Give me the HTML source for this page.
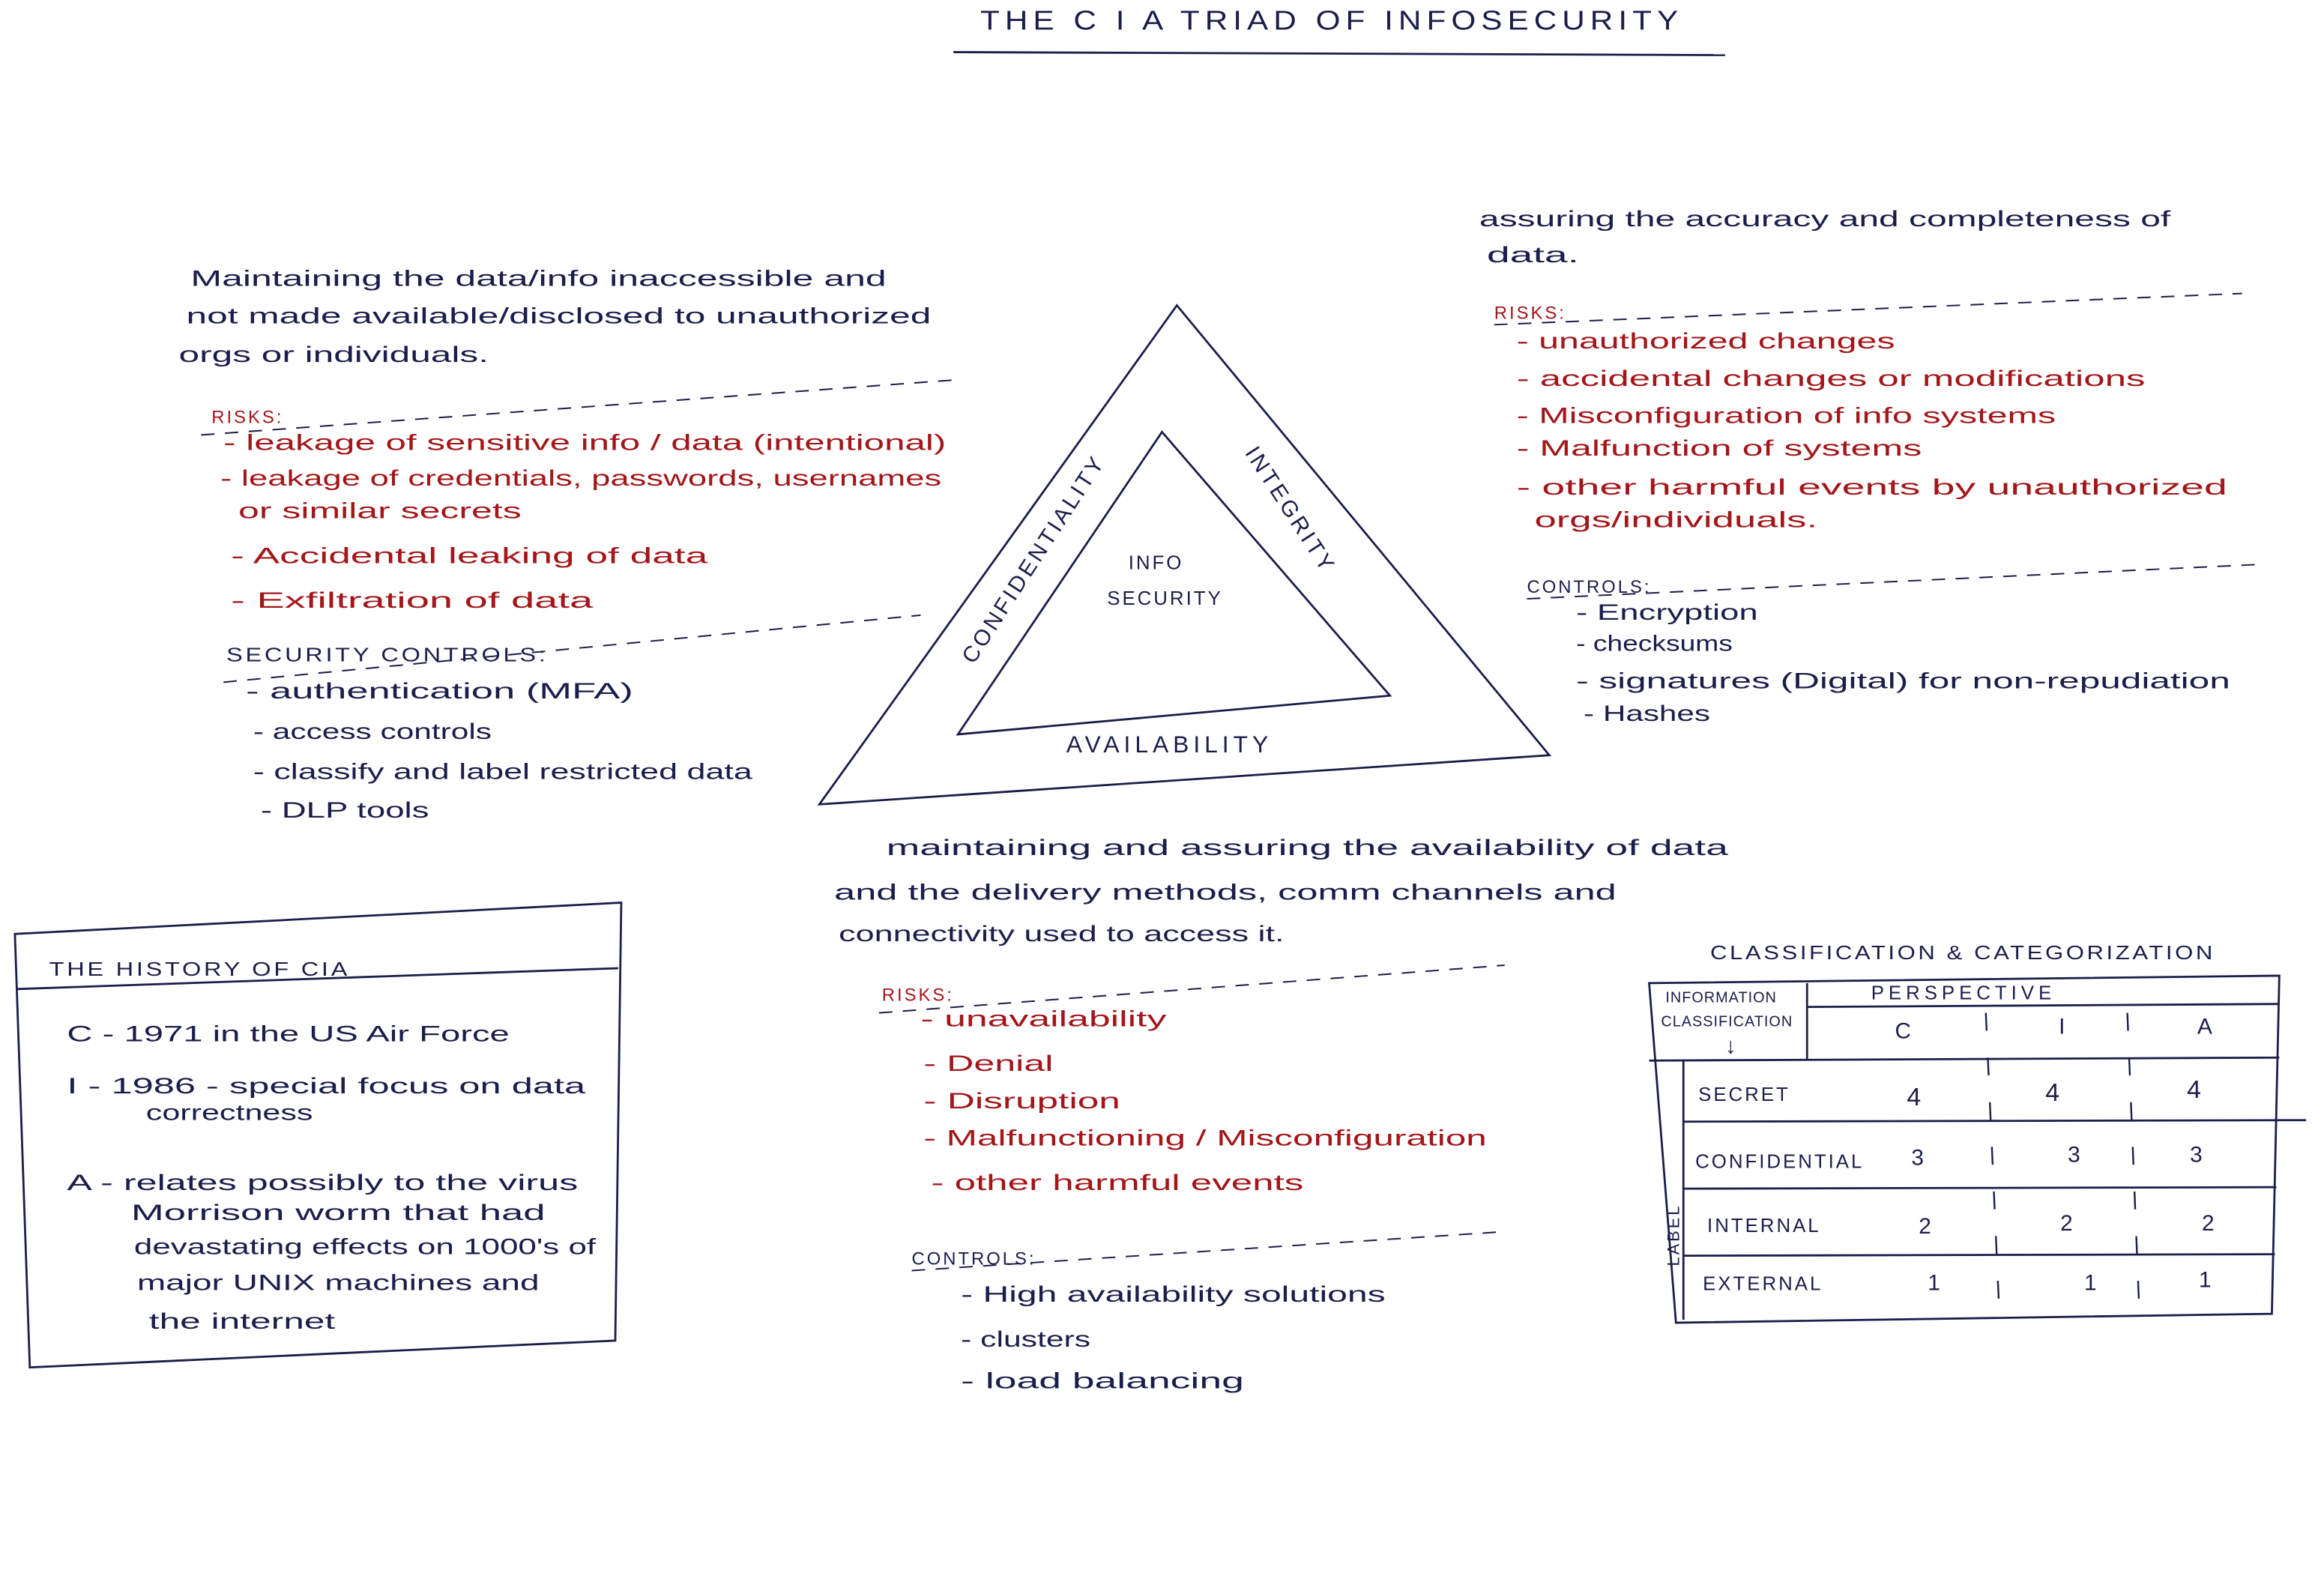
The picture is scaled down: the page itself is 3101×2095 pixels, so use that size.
<!DOCTYPE html>
<html><head><meta charset="utf-8">
<style>
html,body{margin:0;padding:0;background:#fff;}
svg{display:block;}
text{font-family:"Liberation Sans",sans-serif;font-size:15px;}
.k{fill:#1b1d4a;}
.r{fill:#a3161a;}
.c{letter-spacing:1.5px;font-size:14px;}
</style></head><body>
<svg width="3101" height="2095" viewBox="0 0 1560 1054" preserveAspectRatio="none" xmlns="http://www.w3.org/2000/svg">
<g stroke="#1b1d4a" fill="none" stroke-width="1.4">
<line x1="640" y1="35" x2="1158" y2="37"/>
<polygon points="790,205 550,540 1040,507"/>
<polygon points="780,290 643,493 933,467"/>
</g>
<text x="658" y="20" class="k c" style="font-size:18px;letter-spacing:3px" textLength="472" lengthAdjust="spacingAndGlyphs">THE  C I A   TRIAD  OF  INFOSECURITY</text>
<text class="k c" transform="translate(698,378) rotate(-57)" text-anchor="middle" style="font-size:15px;letter-spacing:2px">CONFIDENTIALITY</text>
<text class="k c" transform="translate(862,345) rotate(57)" text-anchor="middle" style="font-size:15px;letter-spacing:2px">INTEGRITY</text>
<text x="785" y="505" class="k c" text-anchor="middle" style="font-size:16px;letter-spacing:3px">AVAILABILITY</text>
<text x="776" y="382" class="k c" text-anchor="middle" style="font-size:13px">INFO</text>
<text x="782" y="406" class="k c" text-anchor="middle" style="font-size:13px">SECURITY</text>

<g stroke-dasharray="9,7" stroke="#1b1d4a" stroke-width="1" fill="none">
<line x1="135" y1="292" x2="642" y2="255"/>
<line x1="150" y1="458" x2="618" y2="413"/>
<line x1="1003" y1="218" x2="1505" y2="197"/>
<line x1="1025" y1="402" x2="1515" y2="379"/>
<line x1="590" y1="680" x2="1010" y2="648"/>
<line x1="612" y1="853" x2="1008" y2="827"/>
</g>

<g lengthAdjust="spacingAndGlyphs">
<!-- left block -->
<text x="128" y="192" class="k" textLength="467" lengthAdjust="spacingAndGlyphs">Maintaining the data/info inaccessible and</text>
<text x="125" y="217" class="k" textLength="500" lengthAdjust="spacingAndGlyphs">not made available/disclosed to unauthorized</text>
<text x="120" y="243" class="k" textLength="208" lengthAdjust="spacingAndGlyphs">orgs or individuals.</text>
<text x="142" y="284" class="r c" style="font-size:12px">RISKS:</text>
<text x="150" y="302" class="r" textLength="485" lengthAdjust="spacingAndGlyphs">- leakage of sensitive info / data (intentional)</text>
<text x="148" y="326" class="r" textLength="484" lengthAdjust="spacingAndGlyphs">- leakage of credentials, passwords, usernames</text>
<text x="160" y="348" class="r" textLength="190" lengthAdjust="spacingAndGlyphs">or similar secrets</text>
<text x="155" y="378" class="r" textLength="320" lengthAdjust="spacingAndGlyphs">- Accidental leaking of data</text>
<text x="155" y="408" class="r" textLength="243" lengthAdjust="spacingAndGlyphs">- Exfiltration of data</text>
<text x="152" y="444" class="k c" style="font-size:13px" textLength="216" lengthAdjust="spacingAndGlyphs">SECURITY  CONTROLS:</text>
<text x="165" y="469" class="k" textLength="260" lengthAdjust="spacingAndGlyphs">- authentication (MFA)</text>
<text x="170" y="496" class="k" textLength="160" lengthAdjust="spacingAndGlyphs">- access controls</text>
<text x="170" y="523" class="k" textLength="335" lengthAdjust="spacingAndGlyphs">- classify and label restricted data</text>
<text x="175" y="549" class="k" textLength="113" lengthAdjust="spacingAndGlyphs">- DLP tools</text>

<!-- right block -->
<text x="993" y="152" class="k" textLength="464" lengthAdjust="spacingAndGlyphs">assuring the accuracy and completeness of</text>
<text x="998" y="176" class="k" textLength="62" lengthAdjust="spacingAndGlyphs">data.</text>
<text x="1003" y="214" class="r c" style="font-size:12px">RISKS:</text>
<text x="1018" y="234" class="r" textLength="254" lengthAdjust="spacingAndGlyphs">- unauthorized changes</text>
<text x="1018" y="259" class="r" textLength="422" lengthAdjust="spacingAndGlyphs">- accidental changes or modifications</text>
<text x="1018" y="284" class="r" textLength="362" lengthAdjust="spacingAndGlyphs">- Misconfiguration of info systems</text>
<text x="1018" y="306" class="r" textLength="272" lengthAdjust="spacingAndGlyphs">- Malfunction of systems</text>
<text x="1018" y="332" class="r" textLength="477" lengthAdjust="spacingAndGlyphs">- other harmful events  by unauthorized</text>
<text x="1030" y="354" class="r" textLength="190" lengthAdjust="spacingAndGlyphs">orgs/individuals.</text>
<text x="1025" y="398" class="k c" style="font-size:12px">CONTROLS:</text>
<text x="1058" y="416" class="k" textLength="122" lengthAdjust="spacingAndGlyphs">- Encryption</text>
<text x="1058" y="437" class="k" textLength="105" lengthAdjust="spacingAndGlyphs">- checksums</text>
<text x="1058" y="462" class="k" textLength="439" lengthAdjust="spacingAndGlyphs">- signatures (Digital) for non-repudiation</text>
<text x="1063" y="484" class="k" textLength="85" lengthAdjust="spacingAndGlyphs">- Hashes</text>

<!-- bottom middle -->
<text x="595" y="574" class="k" textLength="565" lengthAdjust="spacingAndGlyphs">maintaining and assuring the availability of data</text>
<text x="560" y="604" class="k" textLength="525" lengthAdjust="spacingAndGlyphs">and the delivery methods, comm channels and</text>
<text x="563" y="632" class="k" textLength="299" lengthAdjust="spacingAndGlyphs">connectivity used to access it.</text>
<text x="592" y="672" class="r c" style="font-size:12px">RISKS:</text>
<text x="618" y="689" class="r" textLength="165" lengthAdjust="spacingAndGlyphs">- unavailability</text>
<text x="620" y="719" class="r" textLength="87" lengthAdjust="spacingAndGlyphs">- Denial</text>
<text x="620" y="744" class="r" textLength="132" lengthAdjust="spacingAndGlyphs">- Disruption</text>
<text x="620" y="769" class="r" textLength="378" lengthAdjust="spacingAndGlyphs">- Malfunctioning / Misconfiguration</text>
<text x="625" y="799" class="r" textLength="250" lengthAdjust="spacingAndGlyphs">- other harmful events</text>
<text x="612" y="849" class="k c" style="font-size:12px">CONTROLS:</text>
<text x="645" y="874" class="k" textLength="285" lengthAdjust="spacingAndGlyphs">- High availability solutions</text>
<text x="645" y="904" class="k" textLength="87" lengthAdjust="spacingAndGlyphs">- clusters</text>
<text x="645" y="932" class="k" textLength="190" lengthAdjust="spacingAndGlyphs">- load balancing</text>

<!-- history box -->
<text x="33" y="655" class="k c" style="font-size:13px" textLength="202" lengthAdjust="spacingAndGlyphs">THE HISTORY OF CIA</text>
<text x="45" y="699" class="k" textLength="297" lengthAdjust="spacingAndGlyphs">C -  1971 in the US Air Force</text>
<text x="45" y="734" class="k" textLength="348" lengthAdjust="spacingAndGlyphs">I -  1986 - special focus on data</text>
<text x="98" y="752" class="k" textLength="112" lengthAdjust="spacingAndGlyphs">correctness</text>
<text x="45" y="799" class="k" textLength="343" lengthAdjust="spacingAndGlyphs">A -  relates possibly to the virus</text>
<text x="88" y="819" class="k" textLength="278" lengthAdjust="spacingAndGlyphs">Morrison worm that had</text>
<text x="90" y="842" class="k" textLength="310" lengthAdjust="spacingAndGlyphs">devastating effects on 1000's of</text>
<text x="92" y="866" class="k" textLength="270" lengthAdjust="spacingAndGlyphs">major UNIX machines and</text>
<text x="100" y="892" class="k" textLength="125" lengthAdjust="spacingAndGlyphs">the internet</text>
</g>
<g stroke="#1b1d4a" fill="none" stroke-width="1.4">
<polygon points="10,627 417,606 413,900 20,918"/>
<line x1="11" y1="664" x2="415" y2="650"/>
</g>

<!-- table -->
<text x="1148" y="644" class="k c" style="font-size:13px" textLength="339" lengthAdjust="spacingAndGlyphs">CLASSIFICATION &amp; CATEGORIZATION</text>
<g stroke="#1b1d4a" fill="none" stroke-width="1.4">
<polygon points="1107,660 1530,655 1525,882 1125,888"/>
<line x1="1213" y1="660" x2="1213" y2="712"/>
<line x1="1213" y1="676" x2="1530" y2="674"/>
<line x1="1107" y1="712" x2="1530" y2="710"/>
<line x1="1130" y1="712" x2="1130" y2="886"/>
<line x1="1130" y1="753" x2="1548" y2="752"/>
<line x1="1130" y1="798" x2="1528" y2="797"/>
<line x1="1130" y1="843" x2="1527" y2="842"/>
</g>
<g stroke="#1b1d4a" stroke-width="1.2" stroke-dasharray="12,18">
<line x1="1333" y1="680" x2="1342" y2="880"/>
<line x1="1428" y1="680" x2="1436" y2="880"/>
</g>
<text x="1118" y="673" class="k c" style="font-size:10px;letter-spacing:0.5px">INFORMATION</text>
<text x="1115" y="689" class="k c" style="font-size:10px;letter-spacing:0.5px">CLASSIFICATION</text>
<text x="1158" y="707" class="k">↓</text>
<text x="1256" y="671" class="k c" style="font-size:13px;letter-spacing:3px">PERSPECTIVE</text>
<text x="1272" y="697" class="k">C</text>
<text x="1382" y="694" class="k">I</text>
<text x="1475" y="694" class="k">A</text>
<text x="1140" y="739" class="k c" style="font-size:13px">SECRET</text>
<text x="1138" y="784" class="k c" style="font-size:13px">CONFIDENTIAL</text>
<text x="1146" y="827" class="k c" style="font-size:13px">INTERNAL</text>
<text x="1143" y="866" class="k c" style="font-size:13px">EXTERNAL</text>
<text class="k c" transform="translate(1127,850) rotate(-90)" style="font-size:11px">LABEL</text>
<text x="1280" y="742" class="k" style="font-size:17px">4</text>
<text x="1373" y="739" class="k" style="font-size:17px">4</text>
<text x="1468" y="737" class="k" style="font-size:17px">4</text>
<text x="1283" y="782" class="k">3</text>
<text x="1388" y="780" class="k">3</text>
<text x="1470" y="780" class="k">3</text>
<text x="1288" y="828" class="k">2</text>
<text x="1383" y="826" class="k">2</text>
<text x="1478" y="826" class="k">2</text>
<text x="1294" y="866" class="k">1</text>
<text x="1399" y="866" class="k">1</text>
<text x="1476" y="864" class="k">1</text>
</svg>
</body></html>
